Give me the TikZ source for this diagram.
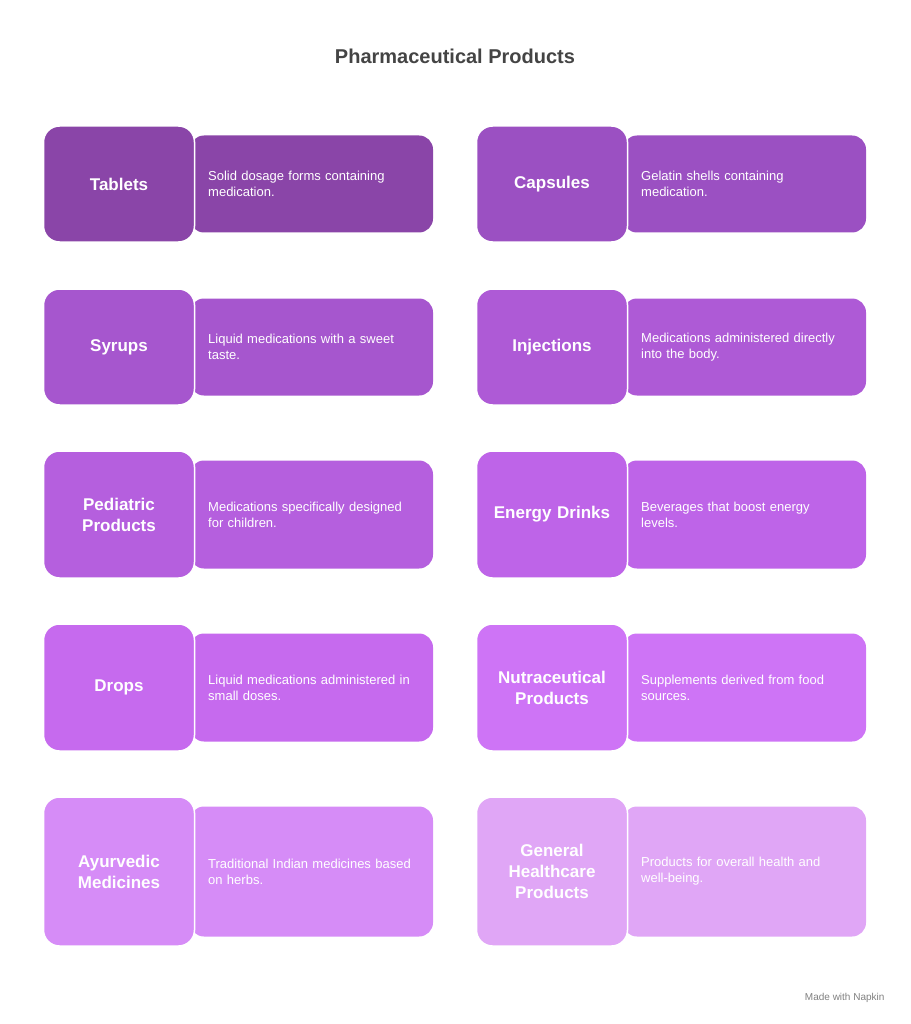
\documentclass[tikz,border=0pt]{standalone}
\usepackage{fontspec}
\setmainfont{Liberation Sans}
\usetikzlibrary{positioning}
\definecolor{cA}{HTML}{8A45A8}
\definecolor{cB}{HTML}{9B50C2}
\definecolor{cC}{HTML}{A656CE}
\definecolor{cD}{HTML}{AE5AD6}
\definecolor{cE}{HTML}{B55FDE}
\definecolor{cF}{HTML}{BE64E8}
\definecolor{cG}{HTML}{C66AEE}
\definecolor{cH}{HTML}{CE74F6}
\definecolor{cI}{HTML}{D68CF7}
\definecolor{cJ}{HTML}{E0A6F6}
\definecolor{titlegray}{HTML}{444444}
% card: x, y top, height, colour, label, description, name
\newcommand{\prodcard}[7]{%
  \node[descB,fill=#4,minimum height=#3-19] (#7d) at (#1+146+121.5,#2+#3/2) {};
  \node[descT,anchor=west] (#7t) at (#1+146+18,#2+#3/2) {#6};
  \node[labelB,fill=#4,minimum height=#3] (#7) at (#1+75,#2+#3/2) {#5};}
\begin{document}
\begin{tikzpicture}
  [x=1pt,y=-1pt,
   labelB/.style={rounded corners=16pt,draw=white,line width=1.5pt,minimum width=151pt,
     text=white,font=\bfseries\fontsize{17}{21}\selectfont,align=center,text width=140pt},
   descB/.style={rounded corners=14pt,minimum width=243pt},
   descT/.style={text=white,font=\fontsize{13}{16}\selectfont,align=left,text width=218pt,inner sep=0pt}]
  \useasboundingbox (0,0) rectangle (910,1024);
  \node[text=titlegray,font=\bfseries\fontsize{20}{24}\selectfont] (title) at (455,56) {Pharmaceutical Products};

  \prodcard{44}{126}{116}{cA}{Tablets}{Solid dosage forms containing\\medication.}{tab}
  \prodcard{477}{126}{116}{cB}{Capsules}{Gelatin shells containing\\medication.}{cap}
  \prodcard{44}{289}{116}{cC}{Syrups}{Liquid medications with a sweet\\taste.}{syr}
  \prodcard{477}{289}{116}{cD}{Injections}{Medications administered directly\\into the body.}{inj}
  \prodcard{44}{451}{127}{cE}{Pediatric\\Products}{Medications specifically designed\\for children.}{ped}
  \prodcard{477}{451}{127}{cF}{Energy Drinks}{Beverages that boost energy\\levels.}{ene}
  \prodcard{44}{624}{127}{cG}{Drops}{Liquid medications administered in\\small doses.}{dro}
  \prodcard{477}{624}{127}{cH}{Nutraceutical\\Products}{Supplements derived from food\\sources.}{nut}
  \prodcard{44}{797}{149}{cI}{Ayurvedic\\Medicines}{Traditional Indian medicines based\\on herbs.}{ayu}
  \prodcard{477}{797}{149}{cJ}{General\\Healthcare\\Products}{Products for overall health and\\well-being.}{gen}

  \node[text=gray,font=\fontsize{10}{12}\selectfont,anchor=east] (made) at (888,998) {Made with Napkin};
\end{tikzpicture}
\end{document}
